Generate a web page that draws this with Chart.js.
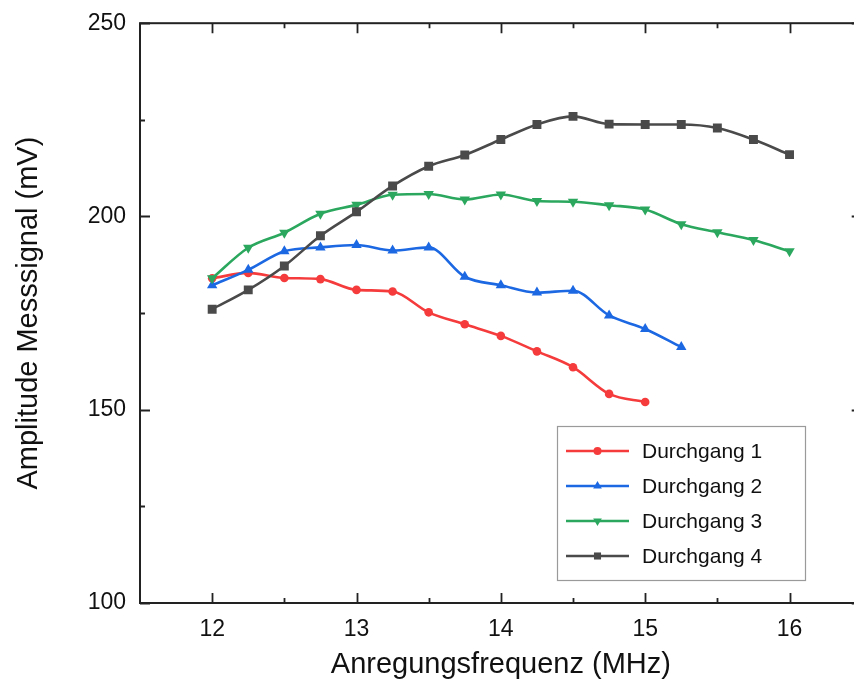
<!DOCTYPE html>
<html>
<head>
<meta charset="utf-8">
<script src="https://cdn.jsdelivr.net/npm/chart.js@4/dist/chart.umd.min.js"></script>
<style>
  html, body { margin: 0; padding: 0; background: #fff; overflow: hidden; }
  #wrap { width: 868px; height: 687px; }
</style>
</head>
<body>
<div id="wrap"><canvas id="c" width="868" height="687"></canvas></div>
<script>
// Excitation frequencies (MHz), shared by all runs
const freqs = [12, 12.25, 12.5, 12.75, 13, 13.25, 13.5, 13.75, 14, 14.25, 14.5, 14.75, 15, 15.25, 15.5, 15.75, 16];

// Measured signal amplitude (mV) per run
const run1 = [184.0, 185.4, 184.1, 183.8, 181.0, 180.6, 175.2, 172.1, 169.1, 165.1, 161.0, 154.1, 152.0];
const run2 = [182.2, 186.2, 191.0, 192.0, 192.6, 191.2, 192.0, 184.4, 182.2, 180.3, 180.8, 174.4, 170.9, 166.2];
const run3 = [184.0, 191.9, 195.8, 200.7, 203.0, 205.6, 205.8, 204.4, 205.7, 204.0, 203.8, 202.9, 201.8, 198.0, 195.9, 193.9, 191.0];
const run4 = [176.0, 181.0, 187.2, 195.0, 201.2, 207.9, 213.0, 215.9, 219.9, 223.8, 225.9, 223.9, 223.8, 223.8, 222.9, 219.9, 216.0];

const runLabels = ['Durchgang 1', 'Durchgang 2', 'Durchgang 3', 'Durchgang 4'];

// Axis ticks
const xTicks = [12, 13, 14, 15, 16];
const yTicks = [100, 150, 200, 250];
const xRange = [11.5, 16.5];
const yRange = [100, 250];

const FONT = '"Liberation Sans", Arial, Helvetica, sans-serif';
const AXIS = '#222222';

function pairs(vals) {
  return vals.map((v, i) => ({ x: freqs[i], y: v }));
}

const styles = [
  { color: '#f53b3b', pointStyle: 'circle', radius: 4.3, rotation: 0 },
  { color: '#1c68e3', pointStyle: 'triangle', radius: 6, rotation: 0 },
  { color: '#2ba85e', pointStyle: 'triangle', radius: 6, rotation: 180 },
  { color: '#4a4a4a', pointStyle: 'rect', radius: 6.3, rotation: 0 }
];

const series = [run1, run2, run3, run4];

const datasets = series.map((vals, i) => ({
  label: runLabels[i],
  data: pairs(vals),
  borderColor: styles[i].color,
  backgroundColor: styles[i].color,
  pointBackgroundColor: styles[i].color,
  pointBorderColor: styles[i].color,
  pointBorderWidth: 0,
  pointStyle: styles[i].pointStyle,
  pointRotation: styles[i].rotation,
  pointRadius: styles[i].radius,
  borderWidth: 2.6,
  cubicInterpolationMode: 'monotone',
  order: 4 - i
}));

// Axis frame with inward major and minor ticks on all four sides
const framePlugin = {
  id: 'frame',
  afterDraw(chart) {
    const { ctx, chartArea: a, scales } = chart;
    const xs = scales.x, ys = scales.y;
    ctx.save();
    ctx.strokeStyle = AXIS;
    ctx.lineCap = 'butt';
    ctx.lineWidth = 2;
    ctx.strokeRect(a.left, a.top, a.right - a.left, a.bottom - a.top);

    const majorLen = 10, minorLen = 5;
    ctx.lineWidth = 1.8;
    const xMinor = [];
    for (let i = 0; i < xTicks.length - 1; i++) xMinor.push((xTicks[i] + xTicks[i + 1]) / 2);
    const yMinor = [];
    for (let i = 0; i < yTicks.length - 1; i++) yMinor.push((yTicks[i] + yTicks[i + 1]) / 2);

    ctx.beginPath();
    const xt = (v, len) => {
      const px = Math.round(xs.getPixelForValue(v)) + 0.5;
      ctx.moveTo(px, a.bottom); ctx.lineTo(px, a.bottom - len);
      ctx.moveTo(px, a.top); ctx.lineTo(px, a.top + len);
    };
    const yt = (v, len) => {
      const py = Math.round(ys.getPixelForValue(v)) + 0.5;
      ctx.moveTo(a.left, py); ctx.lineTo(a.left + len, py);
      ctx.moveTo(a.right, py); ctx.lineTo(a.right - len, py);
    };
    xTicks.forEach(v => xt(v, majorLen));
    xMinor.forEach(v => xt(v, minorLen));
    yTicks.forEach(v => yt(v, majorLen));
    yMinor.forEach(v => yt(v, minorLen));
    ctx.stroke();
    ctx.restore();
  }
};

// Boxed legend inside the plot area
const legendBox = {
  id: 'legendBox',
  afterDraw(chart) {
    const { ctx } = chart;
    const bx = 557.5, by = 426.5, bw = 248, bh = 154;
    ctx.save();
    ctx.strokeStyle = '#9a9a9a';
    ctx.lineWidth = 1.2;
    ctx.strokeRect(bx, by, bw, bh);
    chart.data.datasets.forEach((ds, i) => {
      const cy = 451 + i * 35;
      ctx.strokeStyle = ds.borderColor;
      ctx.lineWidth = 2.6;
      ctx.beginPath();
      ctx.moveTo(566, cy); ctx.lineTo(629, cy);
      ctx.stroke();
      ctx.fillStyle = ds.borderColor;
      Chart.helpers.drawPoint(ctx, {
        pointStyle: ds.pointStyle,
        rotation: ds.pointRotation,
        radius: ds.pointStyle === 'circle' ? 4 : 5,
        borderWidth: 0
      }, 597.5, cy);
      ctx.fillStyle = '#111';
      ctx.font = '21px ' + FONT;
      ctx.textBaseline = 'middle';
      ctx.textAlign = 'left';
      ctx.fillText(ds.label, 642, cy + 1);
    });
    ctx.restore();
  }
};

new Chart(document.getElementById('c'), {
  type: 'line',
  data: { datasets },
  options: {
    responsive: false,
    animation: false,
    events: [],
    layout: { padding: { top: 21, right: 3, left: 0, bottom: 0 } },
    plugins: {
      legend: { display: false },
      tooltip: { enabled: false }
    },
    scales: {
      x: {
        type: 'linear',
        min: xRange[0],
        max: xRange[1],
        grid: { display: false, drawTicks: false },
        border: { display: false },
        afterBuildTicks(s) { s.ticks = xTicks.map(v => ({ value: v })); },
        afterFit(s) { s.height = 84; },
        ticks: {
          padding: 13,
          color: '#111',
          font: { family: FONT, size: 23 },
          callback: v => String(v)
        },
        title: {
          display: true,
          text: 'Anregungsfrequenz (MHz)',
          color: '#111',
          font: { family: FONT, size: 29 },
          padding: { top: 2, bottom: 5 }
        }
      },
      y: {
        type: 'linear',
        min: yRange[0],
        max: yRange[1],
        grid: { display: false, drawTicks: false },
        border: { display: false },
        afterBuildTicks(s) { s.ticks = yTicks.map(v => ({ value: v })); },
        afterFit(s) { s.width = 140; },
        ticks: {
          padding: 14,
          color: '#111',
          font: { family: FONT, size: 23, lineHeight: 0.8 },
          callback: v => String(v)
        },
        title: {
          display: true,
          text: 'Amplitude Messsignal (mV)',
          color: '#111',
          font: { family: FONT, size: 29 },
          padding: { top: 12, bottom: 0 }
        }
      }
    }
  },
  plugins: [framePlugin, legendBox]
});
</script>
</body>
</html>
